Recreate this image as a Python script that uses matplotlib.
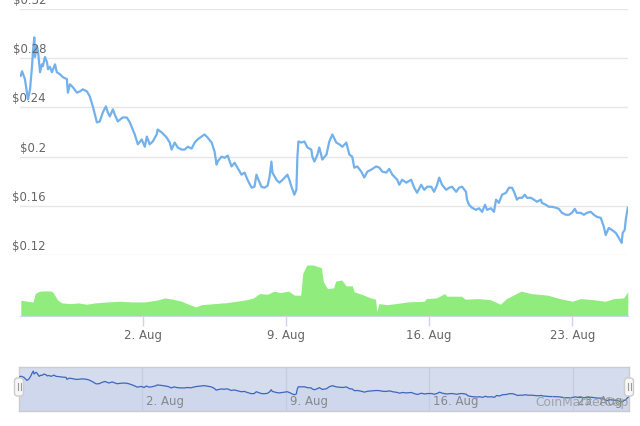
import pandas as pd
import matplotlib
matplotlib.use('Agg')
import matplotlib.pyplot as plt
import matplotlib.dates as mdates
from matplotlib.patches import FancyBboxPatch

# ---------------- data ----------------
start = pd.Timestamp('2021-07-27')

price_days = [0.03, 0.10, 0.24, 0.39, 0.49, 0.59, 0.63, 0.70, 0.73, 0.83, 0.88, 0.98, 1.07, 1.12, 1.22,
              1.32, 1.37, 1.46, 1.56, 1.71, 1.80, 1.95, 2.10, 2.29, 2.34, 2.44, 2.59, 2.78, 2.93, 3.07,
              3.27, 3.41, 3.56, 3.76, 3.90, 4.05, 4.20, 4.29, 4.39, 4.54, 4.63, 4.78, 5.02, 5.22, 5.37,
              5.51, 5.61, 5.76, 5.95, 6.10, 6.20, 6.34, 6.49, 6.68, 6.73, 6.93, 7.17, 7.32, 7.41, 7.56,
              7.71, 7.90, 8.05, 8.20, 8.39, 8.54, 8.68, 8.88, 9.02, 9.17, 9.37, 9.51, 9.61, 9.66, 9.85,
              10.00, 10.15, 10.34, 10.49, 10.63, 10.83, 10.98, 11.12, 11.32, 11.46, 11.56, 11.66, 11.80,
              11.95, 12.10, 12.20, 12.29, 12.34, 12.54, 12.68, 12.83, 12.98, 13.07, 13.17, 13.27, 13.41,
              13.51, 13.56, 13.61, 13.76, 13.90, 14.05, 14.24, 14.29, 14.39, 14.54, 14.63, 14.78, 14.98,
              15.12, 15.27, 15.46, 15.61, 15.76, 15.95, 16.10, 16.24, 16.34, 16.49, 16.68, 16.83, 16.98,
              17.17, 17.41, 17.56, 17.71, 17.90, 18.05, 18.20, 18.44, 18.54, 18.68, 18.88, 19.12, 19.27,
              19.41, 19.61, 19.76, 19.90, 20.10, 20.24, 20.39, 20.49, 20.63, 20.83, 20.98, 21.12, 21.32,
              21.46, 21.61, 21.80, 21.85, 21.95, 22.10, 22.29, 22.44, 22.59, 22.73, 22.83, 23.02, 23.17,
              23.27, 23.41, 23.56, 23.76, 23.90, 24.05, 24.15, 24.29, 24.39, 24.54, 24.68, 24.78, 24.98,
              25.12, 25.27, 25.46, 25.51, 25.71, 25.85, 26.00, 26.20, 26.34, 26.49, 26.68, 26.83, 26.98,
              27.12, 27.22, 27.41, 27.56, 27.71, 27.90, 28.05, 28.20, 28.39, 28.54, 28.63, 28.78, 28.93,
              29.12, 29.27, 29.41, 29.46, 29.56, 29.61, 29.71]

price_values = [0.2656, 0.2694, 0.2630, 0.2465, 0.2547, 0.2735, 0.2850, 0.2969, 0.2810, 0.2900, 0.2857,
                0.2686, 0.2750, 0.2735, 0.2810, 0.2767, 0.2710, 0.2730, 0.2686, 0.2750, 0.2686, 0.2670,
                0.2645, 0.2630, 0.2520, 0.2588, 0.2563, 0.2520, 0.2530, 0.2547, 0.2530, 0.2490, 0.2408,
                0.2278, 0.2286, 0.2360, 0.2408, 0.2360, 0.2327, 0.2384, 0.2343, 0.2286, 0.2318, 0.2318,
                0.2278, 0.2220, 0.2180, 0.2100, 0.2140, 0.2080, 0.2163, 0.2100, 0.2123, 0.2180, 0.2220,
                0.2196, 0.2155, 0.2114, 0.2057, 0.2114, 0.2074, 0.2057, 0.2057, 0.2080, 0.2065, 0.2114,
                0.2140, 0.2163, 0.2180, 0.2155, 0.2114, 0.2040, 0.1935, 0.1960, 0.2000, 0.1990, 0.2008,
                0.1920, 0.1950, 0.1910, 0.1853, 0.1870, 0.1812, 0.1747, 0.1755, 0.1853, 0.1810, 0.1755,
                0.1747, 0.1763, 0.1837, 0.1960, 0.1870, 0.1810, 0.1788, 0.1810, 0.1837, 0.1853, 0.1810,
                0.1755, 0.1690, 0.1731, 0.2000, 0.2123, 0.2114, 0.2123, 0.2074, 0.2057, 0.2000, 0.1960,
                0.2016, 0.2074, 0.1976, 0.2016, 0.2123, 0.2180, 0.2114, 0.2100, 0.2080, 0.2114, 0.2016,
                0.2000, 0.1910, 0.1920, 0.1878, 0.1830, 0.1878, 0.1894, 0.1920, 0.1910, 0.1878, 0.1870,
                0.1900, 0.1853, 0.1812, 0.1771, 0.1812, 0.1788, 0.1812, 0.1747, 0.1706, 0.1771, 0.1730,
                0.1755, 0.1755, 0.1714, 0.1771, 0.1829, 0.1771, 0.1730, 0.1747, 0.1755, 0.1714, 0.1747,
                0.1755, 0.1714, 0.1650, 0.1608, 0.1584, 0.1567, 0.1580, 0.1551, 0.1608, 0.1567, 0.1580,
                0.1551, 0.1650, 0.1624, 0.1690, 0.1706, 0.1747, 0.1747, 0.1714, 0.1650, 0.1665, 0.1665,
                0.1690, 0.1665, 0.1665, 0.1650, 0.1633, 0.1650, 0.1624, 0.1608, 0.1592, 0.1592, 0.1584,
                0.1575, 0.1543, 0.1527, 0.1527, 0.1543, 0.1575, 0.1543, 0.1543, 0.1527, 0.1543, 0.1551,
                0.1527, 0.1510, 0.1502, 0.1429, 0.1363, 0.1420, 0.1404, 0.1380, 0.1339, 0.1298, 0.1380,
                0.1404, 0.1486, 0.1584]

volume_days = [0.04, 0.34, 0.64, 0.74, 0.95, 1.25, 1.55, 1.65, 1.85, 2.05, 2.45, 2.86, 3.26, 3.66, 4.27,
               4.87, 5.47, 6.08, 6.68, 7.08, 7.48, 7.89, 8.29, 8.59, 8.89, 9.50, 10.10, 10.70, 11.11,
               11.41, 11.71, 12.11, 12.41, 12.72, 13.12, 13.42, 13.72, 13.82, 14.02, 14.33, 14.73, 14.83,
               15.03, 15.33, 15.43, 15.73, 15.94, 16.24, 16.34, 16.74, 17.14, 17.38, 17.44, 17.55, 17.95,
               18.35, 18.95, 19.76, 19.86, 20.36, 20.76, 20.86, 21.57, 21.77, 22.37, 22.98, 23.48, 23.78,
               24.49, 24.99, 25.79, 26.40, 27.00, 27.40, 28.01, 28.61, 29.01, 29.50, 29.71]

volume_values = [15.7, 14.7, 14.0, 22.3, 24.7, 25.0, 24.7, 22.3, 15.7, 13.0, 12.3, 13.0, 11.7, 13.0, 14.0,
                 14.7, 14.0, 14.0, 15.7, 18.0, 16.7, 14.7, 11.3, 9.0, 11.3, 12.3, 13.3, 15.0, 16.3,
                 18.0, 22.3, 21.7, 24.7, 23.3, 24.7, 20.7, 20.7, 42.3, 50.7, 50.7, 48.0, 34.0,
                 27.3, 28.0, 34.7, 35.7, 30.0, 30.0, 24.0, 21.3, 18.0, 16.7, 4.7, 12.3, 11.3,
                 12.3, 14.0, 14.7, 17.3, 18.0, 22.3, 19.7, 19.7, 16.7, 17.3, 16.3, 11.7, 17.3,
                 24.7, 22.3, 20.7, 17.3, 14.7, 17.3, 16.3, 14.7, 17.3, 18.0, 24.0]

price_ticks = [0.12, 0.16, 0.20, 0.24, 0.28, 0.32]
price_tick_labels = ['$0.12', '$0.16', '$0.2', '$0.24', '$0.28', '$0.32']
date_ticks = ['2021-08-02', '2021-08-09', '2021-08-16', '2021-08-23']
date_tick_labels = ['2. Aug', '9. Aug', '16. Aug', '23. Aug']

# ---------------- figure ----------------
plt.rcParams['font.family'] = ['DejaVu Sans']
W, H = 640, 427
fig = plt.figure(figsize=(W / 100, H / 100), dpi=100)


def rect(x0, y0, x1, y1):
    return [x0 / W, 1 - y1 / H, (x1 - x0) / W, (y1 - y0) / H]


pt = start + pd.to_timedelta(price_days, unit='D')
vt = start + pd.to_timedelta(volume_days, unit='D')
dt = pd.to_datetime(date_ticks)
xlim = (start, start + pd.Timedelta(days=29.72))

# price pane
ax = fig.add_axes(rect(20, 10, 628, 256))
ax.plot(pt, price_values, color='#72b1ec', lw=1.6, solid_joinstyle='round', zorder=3)
ax.set_xlim(xlim)
ax.set_ylim(0.12, 0.32)
for s in ax.spines.values():
    s.set_visible(False)
ax.set_yticks(price_ticks)
ax.set_yticklabels([])
ax.set_xticks([])
ax.tick_params(length=0)
ax.grid(axis='y', color='#e6e6e6', lw=1)
ax.set_axisbelow(True)
for v, lab in zip(price_ticks, price_tick_labels):
    ax.annotate(lab, xy=(0, v), xycoords=('axes fraction', 'data'), xytext=(26, 3),
                textcoords='offset pixels', ha='right', va='bottom', color='#666666',
                fontsize=8.5, annotation_clip=False)

# volume pane
axv = fig.add_axes(rect(20, 266, 628, 317))
axv.fill_between(vt, 0, volume_values, color='#90ed7d', lw=0)
axv.set_xlim(xlim)
axv.set_ylim(0, max(volume_values))
for k, s in axv.spines.items():
    s.set_visible(k == 'bottom')
axv.spines['bottom'].set_color('#ccd6eb')
axv.set_yticks([])
axv.set_xticks(dt)
axv.set_xticklabels(date_tick_labels)
axv.tick_params(axis='x', length=7.2, width=1, color='#ccd6eb', labelcolor='#666666',
                labelsize=8.5, pad=1.5)
axv.patch.set_alpha(0)

# navigator
axn = fig.add_axes(rect(19, 368, 629, 412))
axn.set_facecolor('#d4dcee')
axn.plot(pt, price_values, color='#3d66bd', lw=0.9, zorder=3)
axn.fill_between(pt, 0, price_values, color='#3d66bd', alpha=0.04, lw=0)
axn.set_xlim(xlim)
axn.set_ylim(0.081, 0.319)
for s in axn.spines.values():
    s.set_color('#cccccc')
    s.set_linewidth(1)
axn.set_yticks([])
axn.set_xticks(dt)
axn.set_xticklabels([])
axn.tick_params(length=0)
axn.grid(axis='x', color='#c6cde0', lw=1)
for d, lab in zip(dt, date_tick_labels):
    axn.annotate(lab, xy=(d, 0), xycoords=('data', 'axes fraction'), xytext=(4, 4),
                 textcoords='offset pixels', ha='left', va='bottom', color='#888888',
                 fontsize=8.5, zorder=4)
axn.text(0.999, 0.22, 'CoinMarketCap', transform=axn.transAxes, ha='right', va='center',
         color='#999999', alpha=0.85, fontsize=8.8, zorder=5)

# handles
for hx in (19, 629):
    hb = FancyBboxPatch((hx - 4.5, H - 397), 9, 18,
                        boxstyle='round,pad=0,rounding_size=3', transform=None,
                        facecolor='#f7f7f7', edgecolor='#cccccc', lw=1, zorder=10)
    fig.patches.append(hb)
    for dx in (-1.5, 1.5):
        fig.add_artist(plt.Line2D([hx + dx, hx + dx], [H - 391, H - 384], transform=None,
                                  color='#999999', lw=0.8, zorder=11))

fig.savefig('out.png', dpi=100)
